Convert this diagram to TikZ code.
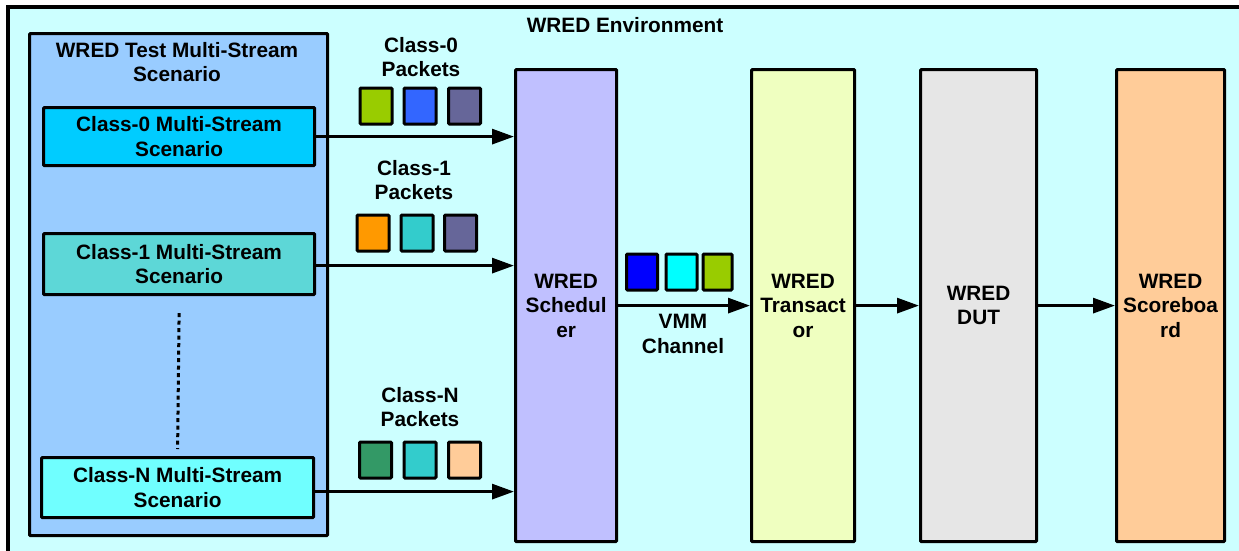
\documentclass[tikz,border=0pt]{standalone}
\usepackage{fontspec}
\setmainfont{Liberation Sans}
\usetikzlibrary{arrows.meta}
\newcommand\lbl{\fontsize{20.8}{24.5}\selectfont\bfseries}
\definecolor{envbg}{RGB}{204,255,255}
\definecolor{panelbg}{RGB}{153,204,255}
\definecolor{czero}{RGB}{0,204,255}
\definecolor{cone}{RGB}{93,215,215}
\definecolor{cn}{RGB}{112,255,255}
\definecolor{schedbg}{RGB}{192,192,255}
\definecolor{transbg}{RGB}{239,255,192}
\definecolor{dutbg}{RGB}{230,230,230}
\definecolor{scorebg}{RGB}{255,204,153}
\definecolor{pkgreen}{RGB}{153,204,0}
\definecolor{pkblue}{RGB}{51,102,255}
\definecolor{pkslate}{RGB}{102,102,153}
\definecolor{pkorange}{RGB}{255,153,0}
\definecolor{pkteal}{RGB}{51,204,204}
\definecolor{pksea}{RGB}{51,153,102}
\definecolor{pkpeach}{RGB}{255,204,153}
\definecolor{pkdeep}{RGB}{0,0,255}
\definecolor{pkcyan}{RGB}{0,255,255}
\begin{document}
\begin{tikzpicture}[x=1pt,y=-1pt,
  blk/.style={draw=black, line width=3.2pt, rounded corners=1pt, inner sep=0pt,
    align=center, font=\lbl, anchor=north west},
  pkt/.style={draw=black, line width=3pt, rounded corners=1pt, inner sep=0pt,
    minimum width=32pt, minimum height=36pt},
  txt/.style={align=center, font=\lbl, inner sep=0pt},
  arr/.style={line width=3pt, -{Triangle[length=22pt,width=15pt]}},
  dotline/.style={line width=3pt, dash pattern=on 4pt off 3.5pt}]
\useasboundingbox (0,0) rectangle (1239,550);
\clip (0,0) rectangle (1239,550);
\fill[white] (0,0) rectangle (1239,550);

% environment frame
\draw[line width=3.2pt, fill=envbg] (8,7) rectangle (1260,570);
\node[txt] (envtitle) at (625,25) {WRED Environment};

% test scenario panel with its class streams
\node[blk, fill=panelbg, minimum width=298pt, minimum height=502pt] (panel) at (28,32) {};
\node[txt] (paneltitle) at (177,62) {WRED Test Multi-Stream\\Scenario};
\node[blk, fill=czero, minimum width=271pt, minimum height=58pt] (c0) at (42,106) {Class-0 Multi-Stream\\Scenario};
\node[blk, fill=cone, minimum width=271pt, minimum height=61pt] (c1) at (42,232) {Class-1 Multi-Stream\\Scenario};
\node[blk, fill=cn, minimum width=272pt, minimum height=60pt] (cN) at (40,456) {Class-N Multi-Stream\\Scenario};
\draw[dotline] ([yshift=-17pt]c1.south) -- ([yshift=7pt]cN.north);

% processing chain
\node[blk, fill=schedbg, minimum width=101pt, minimum height=472pt] (sched) at (514,68) {WRED\\Schedul\\er};
\node[blk, fill=transbg, minimum width=103pt, minimum height=472pt] (trans) at (750,68) {WRED\\Transact\\or};
\node[blk, fill=dutbg, minimum width=116pt, minimum height=472pt] (dut) at (919,68) {WRED\\DUT};
\node[blk, fill=scorebg, minimum width=108pt, minimum height=472pt] (score) at (1115,68) {WRED\\Scoreboa\\rd};

% packet labels
\node[txt] (l0) at (421,57) {Class-0\\Packets};
\node[txt] (l1) at (414,180) {Class-1\\Packets};
\node[txt] (lN) at (420,407) {Class-N\\Packets};
\node[txt] (vmm) at (683,334) {VMM\\Channel};

% packets
\node[pkt, fill=pkgreen] (p00) at (376,106) {};
\node[pkt, fill=pkblue] (p01) at (420,106) {};
\node[pkt, fill=pkslate] (p02) at (464.5,106) {};
\node[pkt, fill=pkorange] (p10) at (373,233) {};
\node[pkt, fill=pkteal] (p11) at (417,233) {};
\node[pkt, fill=pkslate] (p12) at (460.5,233) {};
\node[pkt, fill=pksea] (pN0) at (375.5,460) {};
\node[pkt, fill=pkteal] (pN1) at (420,460) {};
\node[pkt, fill=pkpeach] (pN2) at (464.5,460) {};
\node[pkt, fill=pkdeep, minimum width=31pt] (v0) at (642,272) {};
\node[pkt, fill=pkcyan, minimum width=31pt] (v1) at (681.5,272) {};
\node[pkt, fill=pkgreen, minimum width=29pt] (v2) at (717.5,272) {};

% connector start points on the stream boxes
\coordinate (c1out) at ([yshift=-1.5pt]c1.east);
\coordinate (cNout) at ([yshift=-4pt]cN.east);

% connectors
\draw[arr] (c0.east) -- (sched.west |- c0.east);
\draw[arr] (c1out) -- (sched.west |- c1out);
\draw[arr] (cNout) -- (sched.west |- cNout);
\draw[arr] (sched.east) -- (trans.west);
\draw[arr] (trans.east) -- (dut.west);
\draw[arr] (dut.east) -- (score.west);
\end{tikzpicture}
\end{document}
